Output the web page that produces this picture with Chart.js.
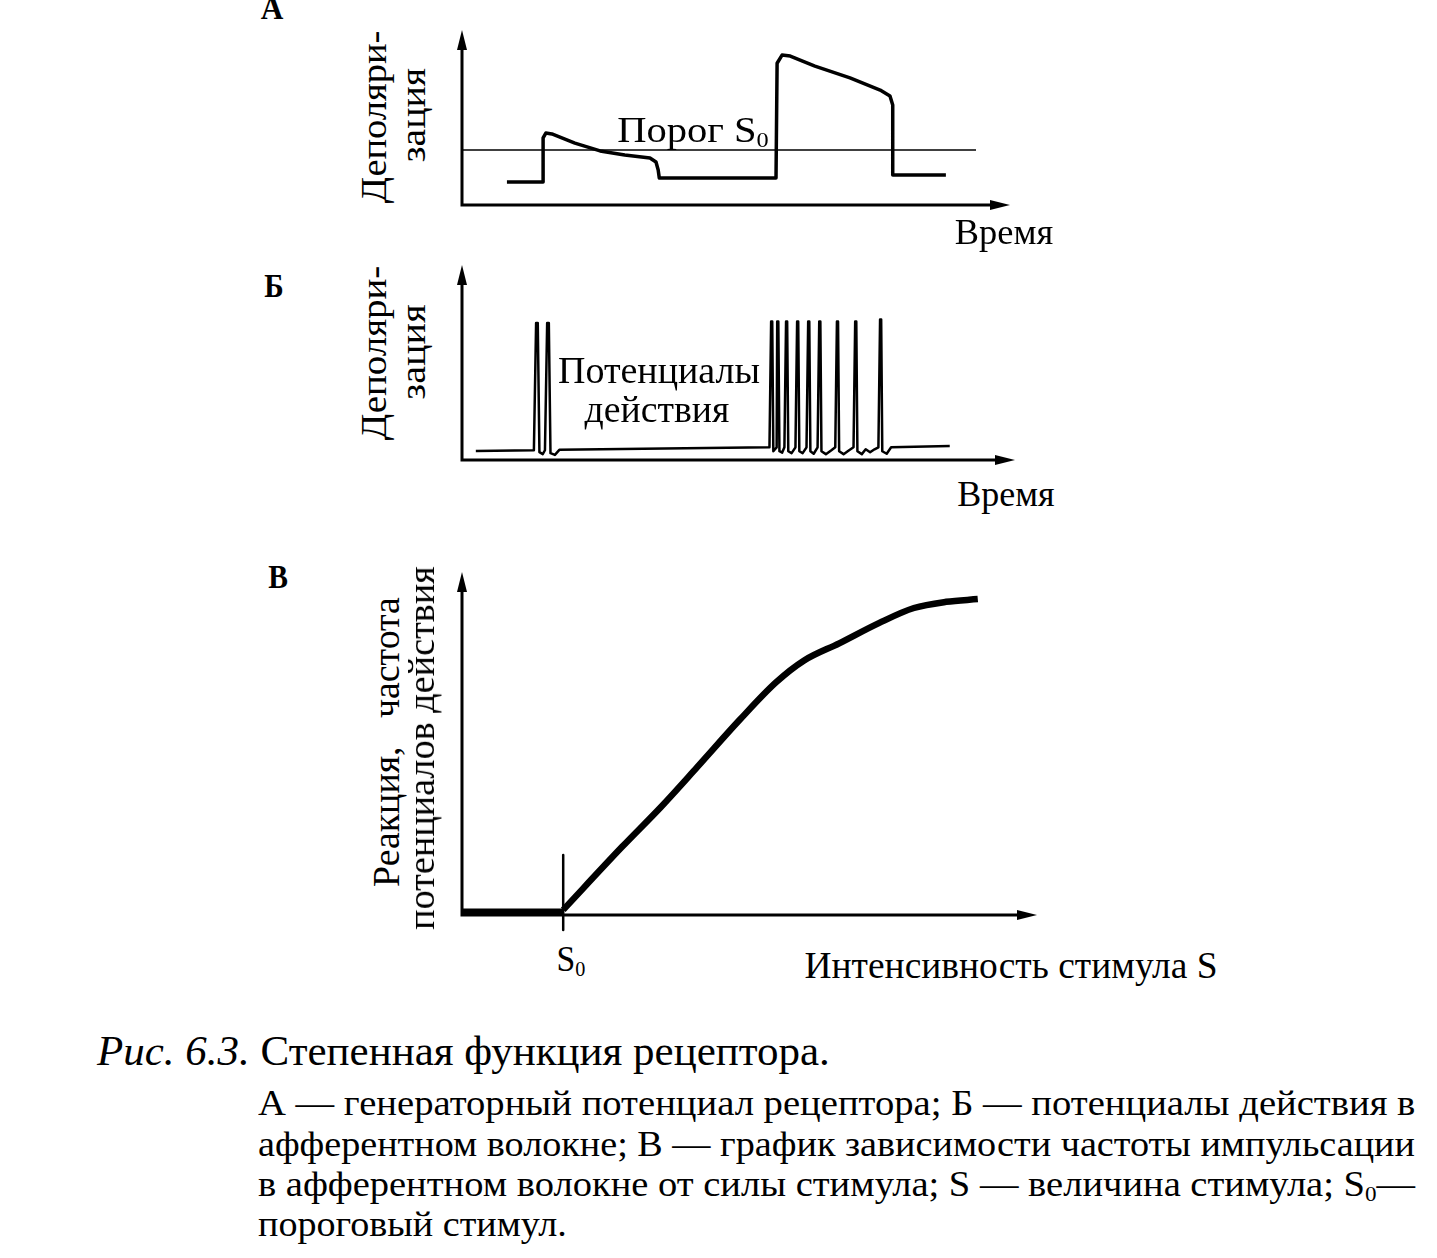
<!DOCTYPE html>
<html>
<head>
<meta charset="utf-8">
<script src="https://cdn.jsdelivr.net/npm/chart.js@4.4.1/dist/chart.umd.min.js"></script>
<style>
  body { margin: 0; background: #fff; width: 1437px; height: 1258px; overflow: hidden; position: relative; }
  canvas { position: absolute; }
  .t, .l { position: absolute; white-space: nowrap; font-family: 'Liberation Serif', serif; color: #000; line-height: 1; }
  .t { transform: translate(-50%, -50%); }
  .l { transform-origin: 0 0; }
  .b { font-weight: bold; }
  sub { font-size: 60%; vertical-align: -0.25em; line-height: 0; }
</style>
</head>
<body>

<canvas id="chart-a" width="590" height="200" style="left:440px; top:15px;"></canvas>
<canvas id="chart-b" width="595" height="220" style="left:440px; top:250px;"></canvas>
<canvas id="chart-c" width="617" height="380" style="left:440px; top:555px;"></canvas>

<!-- panel A -->
<div class="t b" data-w="23" style="left:272px; top:8px; font-size:34px;">А</div>
<div class="t" data-w="173" data-r="1" style="left:374px; top:117px; font-size:36px;">Деполяри-</div>
<div class="t" data-w="94" data-r="1" style="left:413px; top:115px; font-size:36px;">зация</div>
<div class="t" data-w="152" style="left:693px; top:130px; font-size:36px;">Порог S<sub>0</sub></div>
<div class="t" data-w="98" style="left:1004px; top:232px; font-size:36px;">Время</div>

<!-- panel Б -->
<div class="t b" data-w="19" style="left:274px; top:286px; font-size:34px;">Б</div>
<div class="t" data-w="175" data-r="1" style="left:374px; top:353px; font-size:36px;">Деполяри-</div>
<div class="t" data-w="95" data-r="1" style="left:413px; top:352px; font-size:36px;">зация</div>
<div class="t" data-w="202" style="left:659px; top:370px; font-size:38px;">Потенциалы</div>
<div class="t" data-w="145" style="left:657px; top:409px; font-size:38px;">действия</div>
<div class="t" data-w="97" style="left:1006px; top:494px; font-size:36px;">Время</div>

<!-- panel В -->
<div class="t b" data-w="20" style="left:278px; top:577px; font-size:34px;">В</div>
<div class="t" data-w="290" data-r="1" style="left:386px; top:742px; font-size:38px;">Реакция,&nbsp;&nbsp; частота</div>
<div class="t" data-w="364" data-r="1" style="left:421px; top:748px; font-size:38px;">потенциалов действия</div>
<div class="t" data-w="29" style="left:571px; top:959px; font-size:36px;">S<sub>0</sub></div>
<div class="t" data-w="413" style="left:1011px; top:965px; font-size:38px;">Интенсивность стимула S</div>

<!-- caption -->
<div class="l" data-w="733" style="left:97px; top:1029px; font-size:43px;"><i>Рис. 6.3.</i> Степенная функция рецептора.</div>
<div class="l" data-w="1157" style="left:258px; top:1085px; font-size:36px;">А — генераторный потенциал рецептора; Б — потенциалы действия в</div>
<div class="l" data-w="1157" style="left:258px; top:1126px; font-size:36px;">афферентном волокне; В — график зависимости частоты импульсации</div>
<div class="l" data-w="1157" style="left:258px; top:1166px; font-size:36px;">в афферентном волокне от силы стимула; S — величина стимула; S<sub>0</sub>—</div>
<div class="l" data-w="309" style="left:258px; top:1206px; font-size:36px;">пороговый стимул.</div>

<script>
// A: generator potential (time 0..100, depolarisation 0..100)
var genTime = [8.2, 14.8, 14.8, 15.3, 16.4, 20.6, 25.2, 29.7, 34.3, 35.4, 35.8, 36.0, 57.3, 57.5, 58.4, 59.9, 64.4, 70.8, 76.3, 78.1, 78.6, 78.6, 88.3];
var genDepol = [13.1, 13.1, 38.3, 41.1, 40.6, 35.4, 30.9, 28.6, 26.9, 24.6, 20.0, 15.4, 15.4, 81.0, 85.7, 85.1, 79.4, 72.6, 65.7, 62.3, 57.1, 17.1, 17.1];
var thresholdLevel = 31.4;
var thresholdEnd = 93.8;

// Б: action potentials
var apTime = [2.5, 13.0, 13.4, 13.7, 14.0, 14.6, 15.0, 15.4, 15.7, 16.0, 16.8, 17.6,
  55.6, 55.9, 56.1, 56.3, 56.6, 56.9, 57.0, 57.2, 57.4, 57.9, 58.3,
  58.6, 58.8, 59.0, 59.6, 60.3, 60.6, 60.8, 61.0, 61.6, 62.3,
  62.6, 62.8, 63.0, 63.6, 64.3, 64.6, 64.8, 65.0, 65.8, 66.8, 67.5,
  67.8, 68.0, 68.2, 69.0, 70.0, 70.8, 71.1, 71.3, 71.5, 72.3, 73.0, 73.8, 74.6, 75.3,
  75.6, 75.8, 76.0, 76.8, 77.6, 88.2];
var apDepol = [4.6, 5.0, 70.3, 70.3, 4.0, 3.0, 5.0, 70.3, 70.3, 3.5, 2.6, 5.2,
  6.5, 71, 71, 4.5, 5.5, 6.5, 71, 71, 4.5, 3.8, 6.5,
  71, 71, 4.5, 3.5, 6.5, 71, 71, 4.5, 3.5, 6.5,
  71, 71, 4.5, 3.2, 6.5, 71, 71, 4.5, 3.0, 5.0, 6.5,
  71, 71, 4.5, 3.0, 5.0, 6.5, 71, 71, 4.5, 3.0, 5.5, 4.0, 5.5, 6.5,
  72, 72, 4.5, 3.2, 6.5, 7.2];

// В: response vs stimulus intensity
var threshS = 17.6;
var flatS = [0, 17.6];
var flatR = [1.0, 1.0];
var stimS = [17.6, 27.8, 34.6, 40.9, 48.3, 54.6, 59.5, 65.6, 72.5, 78.6, 84.2, 89.7];
var respR = [1.5, 19.8, 31.5, 43.1, 56.9, 67.8, 74.2, 79.2, 85.1, 89.5, 91.3, 92.1];
var tickR = [17.5, -4.4];

function pts(xs, ys) {
  var out = [];
  for (var i = 0; i < xs.length; i++) out.push({x: xs[i], y: ys[i]});
  return out;
}

// squeeze text to the width it has in the scan (the book font is narrow)
function fitText() {
  var els = document.querySelectorAll('[data-w]');
  for (var i = 0; i < els.length; i++) {
    var el = els[i];
    var k = parseFloat(el.dataset.w) / el.offsetWidth;
    var rot = el.dataset.r ? ' rotate(-90deg)' : '';
    if (el.classList.contains('t')) {
      el.style.transform = 'translate(-50%, -50%)' + rot + ' scaleX(' + k + ')';
    } else {
      el.style.transform = 'scaleX(' + k + ')';
    }
  }
}
if (document.fonts && document.fonts.ready) document.fonts.ready.then(fitText);
fitText();

// axes drawn as arrows along the chart area
const arrowAxes = {
  id: 'arrowAxes',
  afterDraw(chart) {
    const ctx = chart.ctx;
    const a = chart.chartArea;
    ctx.save();
    ctx.strokeStyle = '#000';
    ctx.fillStyle = '#000';
    ctx.lineWidth = 3;
    ctx.beginPath();
    ctx.moveTo(a.left, a.top + 12);
    ctx.lineTo(a.left, a.bottom);
    ctx.lineTo(a.right - 12, a.bottom);
    ctx.stroke();
    ctx.beginPath();
    ctx.moveTo(a.left, a.top);
    ctx.lineTo(a.left - 5, a.top + 20);
    ctx.lineTo(a.left + 5, a.top + 20);
    ctx.closePath();
    ctx.fill();
    ctx.beginPath();
    ctx.moveTo(a.right, a.bottom);
    ctx.lineTo(a.right - 20, a.bottom - 5);
    ctx.lineTo(a.right - 20, a.bottom + 5);
    ctx.closePath();
    ctx.fill();
    ctx.restore();
  }
};

function opts(pad) {
  return {
    responsive: false,
    animation: false,
    layout: { padding: pad },
    plugins: { legend: { display: false }, tooltip: { enabled: false } },
    scales: {
      x: { type: 'linear', display: false, min: 0, max: 100 },
      y: { type: 'linear', display: false, min: 0, max: 100 }
    }
  };
}

function line(data, width, extra) {
  var ds = {
    data: data,
    showLine: true,
    borderColor: '#000',
    borderWidth: width,
    pointRadius: 0,
    tension: 0,
    fill: false,
    clip: false,
    borderJoinStyle: 'round',
    borderCapStyle: 'butt'
  };
  for (var k in extra) ds[k] = extra[k];
  return ds;
}

new Chart('chart-a', {
  type: 'scatter',
  plugins: [arrowAxes],
  options: opts({ left: 22, top: 15, right: 20, bottom: 10 }),
  data: {
    datasets: [
      line(pts([0, thresholdEnd], [thresholdLevel, thresholdLevel]), 1.5),
      line(pts(genTime, genDepol), 3.5)
    ]
  }
});

new Chart('chart-b', {
  type: 'scatter',
  plugins: [arrowAxes],
  options: opts({ left: 22, top: 15, right: 20, bottom: 10 }),
  data: {
    datasets: [
      line(pts(apTime, apDepol), 2.5)
    ]
  }
});

new Chart('chart-c', {
  type: 'scatter',
  plugins: [arrowAxes],
  options: opts({ left: 22, top: 17, right: 20, bottom: 20 }),
  data: {
    datasets: [
      line(pts(flatS, flatR), 6),
      line(pts([threshS, threshS], tickR), 2.5),
      line(pts(stimS, respR), 6.5, { tension: 0.3, cubicInterpolationMode: 'monotone' })
    ]
  }
});
</script>
</body>
</html>
